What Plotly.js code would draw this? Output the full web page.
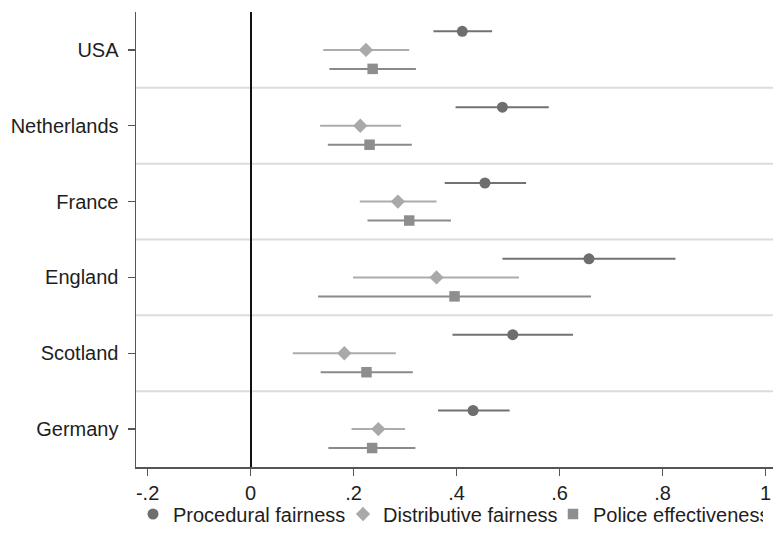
<!DOCTYPE html>
<html>
<head>
<meta charset="utf-8">
<script src="https://cdn.plot.ly/plotly-3.0.1.min.js"></script>
<style>
  html, body { margin: 0; padding: 0; overflow: hidden; background: #fff; }
  #chart { width: 900px; height: 543px; }
</style>
</head>
<body>
<div id="chart"></div>
<script>
// Country coefficient estimates with 95% confidence bounds
const countries = ['USA', 'Netherlands', 'France', 'England', 'Scotland', 'Germany'];

const procEst = [0.411, 0.489, 0.455, 0.657, 0.509, 0.432];
const procLo  = [0.355, 0.398, 0.377, 0.489, 0.392, 0.364];
const procHi  = [0.469, 0.579, 0.535, 0.825, 0.626, 0.503];

const distEst = [0.224, 0.213, 0.286, 0.361, 0.182, 0.248];
const distLo  = [0.141, 0.135, 0.212, 0.199, 0.082, 0.196];
const distHi  = [0.308, 0.292, 0.361, 0.521, 0.282, 0.300];

const poliEst = [0.237, 0.231, 0.308, 0.396, 0.225, 0.236];
const poliLo  = [0.153, 0.150, 0.227, 0.131, 0.136, 0.151];
const poliHi  = [0.321, 0.313, 0.389, 0.661, 0.315, 0.320];

const xTickVals = [-0.2, 0, 0.2, 0.4, 0.6, 0.8, 1];
const xTickText = ['-.2', '0', '.2', '.4', '.6', '.8', '1'];

const seriesNames = ['Procedural fairness', 'Distributive fairness', 'Police effectiveness'];

// vertical offset of each series inside a country band
const rowOffset = [-0.245, 0, 0.25];

const FONT = '"Liberation Sans", Arial, Helvetica, sans-serif';

function makeTrace(k, est, lo, hi, color, lineColor, symbol, size) {
  return {
    type: 'scatter',
    mode: 'markers',
    name: seriesNames[k],
    x: est,
    y: countries.map((_, i) => i + rowOffset[k]),
    marker: { color: color, symbol: symbol, size: size, line: { width: 0 } },
    error_x: {
      type: 'data',
      symmetric: false,
      array: hi.map((h, i) => h - est[i]),
      arrayminus: lo.map((l, i) => est[i] - l),
      color: lineColor,
      thickness: 2,
      width: 0
    },
    hoverinfo: 'x+name'
  };
}

const traces = [
  makeTrace(0, procEst, procLo, procHi, '#6e6e70', '#727274', 'circle', 11),
  makeTrace(1, distEst, distLo, distHi, '#a9a9ab', '#acacae', 'diamond', 11),
  makeTrace(2, poliEst, poliLo, poliHi, '#8e8e90', '#8a8a8c', 'square', 10.5)
];

// light separators between country bands
const separators = countries.slice(1).map((_, i) => ({
  type: 'line', xref: 'paper', yref: 'y', layer: 'below',
  x0: 0, x1: 1, y0: i + 0.5, y1: i + 0.5,
  line: { color: '#dcdcdc', width: 2 }
}));

// the canvas runs wider than the window; its right edge is cut off
const layout = {
  width: 900,
  height: 543,
  margin: { l: 136, r: 10, t: 12, b: 76, autoexpand: false },
  paper_bgcolor: '#ffffff',
  plot_bgcolor: '#ffffff',
  font: { family: FONT, size: 20, color: '#1e1e1e' },
  showlegend: true,
  legend: {
    orientation: 'h',
    xref: 'container', yref: 'container',
    x: 133 / 900, xanchor: 'left',
    y: 0.0534, yanchor: 'middle',
    entrywidth: 165,
    entrywidthmode: 'pixels',
    bgcolor: 'rgba(0,0,0,0)',
    font: { family: FONT, size: 20, color: '#1e1e1e' },
    itemclick: false
  },
  xaxis: {
    range: [-0.22252, 1.24155],
    tickmode: 'array',
    tickvals: xTickVals,
    ticktext: xTickText,
    ticks: 'outside',
    ticklen: 7,
    tickwidth: 1.3,
    tickcolor: '#555555',
    showgrid: false,
    zeroline: true,
    zerolinecolor: '#111111',
    zerolinewidth: 2,
    showline: true,
    linecolor: '#555555',
    linewidth: 1.5,
    tickfont: { family: FONT, size: 20, color: '#1e1e1e' },
    fixedrange: true
  },
  yaxis: {
    range: [5.5, -0.5],
    tickmode: 'array',
    tickvals: countries.map((_, i) => i),
    ticktext: countries,
    ticks: 'outside',
    ticklen: 7,
    tickwidth: 1.3,
    tickcolor: '#555555',
    ticklabelstandoff: 5,
    showgrid: false,
    zeroline: false,
    showline: true,
    linecolor: '#555555',
    linewidth: 1.5,
    tickfont: { family: FONT, size: 20, color: '#1e1e1e' },
    fixedrange: true
  },
  shapes: separators
};

Plotly.newPlot('chart', traces, layout, { displayModeBar: false, staticPlot: true });
</script>
</body>
</html>
